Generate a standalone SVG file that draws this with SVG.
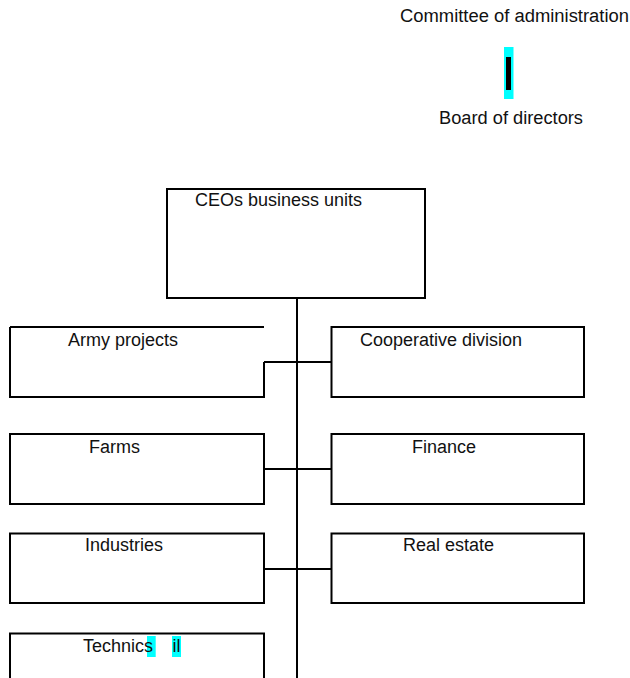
<svg xmlns="http://www.w3.org/2000/svg" width="630" height="678" viewBox="0 0 630 678">
<style>
text{font-family:"Liberation Sans",Arial,sans-serif;font-size:18px;fill:#111}
.bx{fill:none;stroke:#000;stroke-width:2}
.cn{fill:none;stroke:#000;stroke-width:2}
.hl{fill:#00ffff}
</style>
<rect width="630" height="678" fill="#fff"/>
<g id="committee">
<text x="400" y="22" textLength="229" lengthAdjust="spacingAndGlyphs">Committee of administration</text>
</g>
<g id="bar">
<rect class="hl" x="504" y="47" width="9.5" height="52"/>
<rect x="506" y="57" width="5" height="33" fill="#000"/>
</g>
<g id="board">
<text x="439" y="124" textLength="144" lengthAdjust="spacingAndGlyphs">Board of directors</text>
</g>
<g id="ceo">
<rect class="bx" x="167" y="189" width="258" height="109"/>
<text x="195" y="206">CEOs business units</text>
</g>
<g id="army">
<path class="bx" d="M10,327 V397 H264 V362 M10,327 H264"/>
<text x="68" y="346">Army projects</text>
</g>
<g id="coop">
<rect class="bx" x="331.5" y="327" width="252.5" height="70"/>
<text x="360" y="346">Cooperative division</text>
</g>
<g id="farms">
<rect class="bx" x="10" y="434" width="254" height="70"/>
<text x="89" y="453">Farms</text>
</g>
<g id="finance">
<rect class="bx" x="331.5" y="434" width="252.5" height="70"/>
<text x="412" y="453">Finance</text>
</g>
<g id="industries">
<rect class="bx" x="10" y="533.5" width="254" height="69.5"/>
<text x="85" y="551">Industries</text>
</g>
<g id="realestate">
<rect class="bx" x="331.5" y="533.5" width="252.5" height="69.5"/>
<text x="403" y="551">Real estate</text>
</g>
<g id="technics">
<path class="bx" d="M10,680 V633.5 H264 V680"/>
<rect class="hl" x="147" y="636" width="8.7" height="21"/>
<rect class="hl" x="172" y="636" width="9" height="21"/>
<text x="83" y="652">Technics</text>
<text x="172.5" y="652">il</text>
</g>
<g id="connectors">
<line class="cn" x1="297" y1="298" x2="297" y2="678"/>
<line class="cn" x1="264" y1="362" x2="331.5" y2="362"/>
<line class="cn" x1="264" y1="469" x2="331.5" y2="469"/>
<line class="cn" x1="264" y1="569" x2="331.5" y2="569"/>
</g>
</svg>
